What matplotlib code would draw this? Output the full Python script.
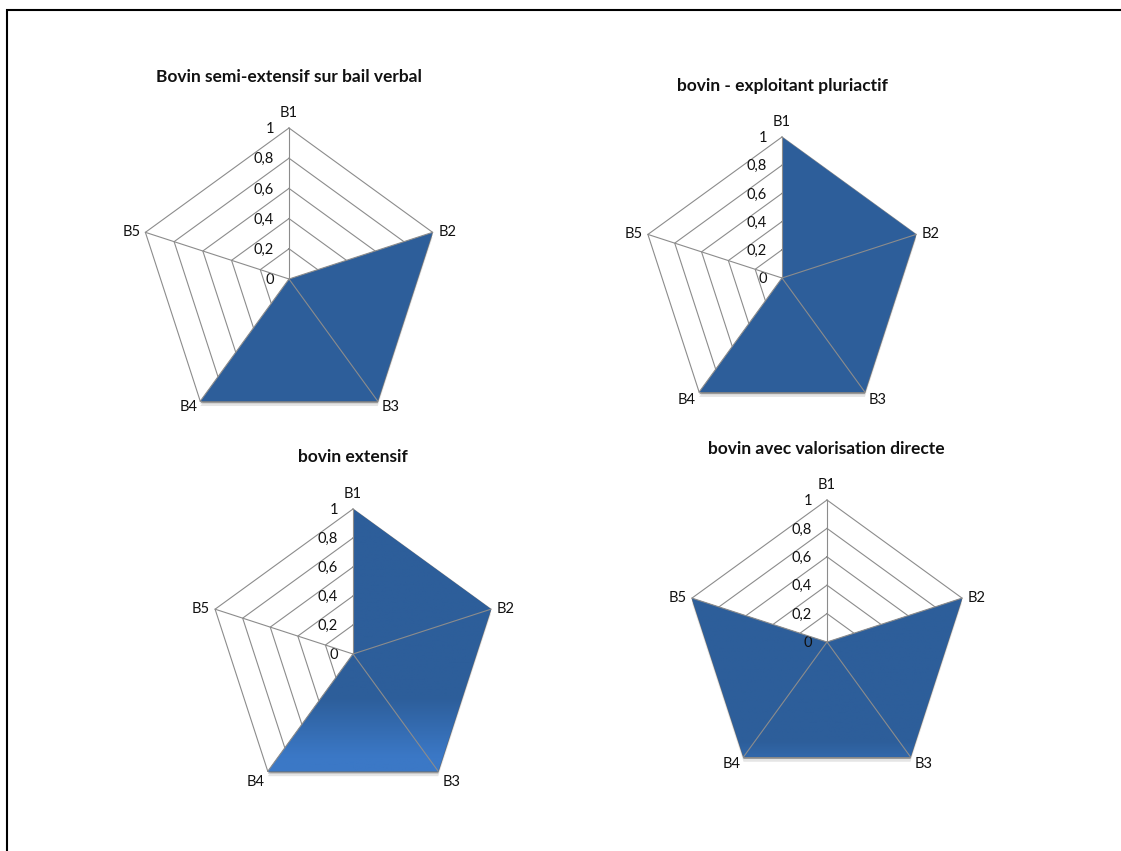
"""
Radar charts of the four bovine farm types
"""

import numpy as np
import matplotlib
matplotlib.use('Agg')
import matplotlib.pyplot as plt
import matplotlib.patheffects as pe
from matplotlib.colors import LinearSegmentedColormap
from matplotlib.image import BboxImage
from matplotlib.lines import Line2D

plt.rcParams['font.family'] = ['Lato', 'DejaVu Sans']

axis_labels = ['B1', 'B2', 'B3', 'B4', 'B5']
ring_levels = [0.2, 0.4, 0.6, 0.8, 1.0]
ring_labels = ['0', '0,2', '0,4', '0,6', '0,8', '1']

titles = [
    'Bovin semi-extensif sur bail verbal',
    'bovin - exploitant pluriactif',
    'bovin extensif',
    'bovin avec valorisation directe',
]
values_semi_extensif = [0, 1, 1, 1, 0]
values_pluriactif = [1, 1, 1, 1, 0]
values_extensif = [1, 1, 1, 1, 0]
values_valorisation = [0, 1, 1, 1, 1]

W, H = 1121, 851
GRID = '#8c8c8c'
DARK = '#2d5e9a'
LIGHT = '#3b78c6'
# Pixel offset of each axis name from its tip
NAME_OFFSETS = [(0, 15), (15, 0), (13, -4), (-12, -4), (-14, 0)]


def draw_radar(center, radius, title, title_xy, values, name_drop=0, light_end=None):
    """One radar chart, placed by its centre and radius in pixels"""
    cx, cy = center
    ax = fig.add_axes([(cx - radius) / W, 1 - (cy + radius) / H, 2 * radius / W, 2 * radius / H],
                      projection='polar')
    ax.set_theta_zero_location('N')
    ax.set_theta_direction(-1)
    ax.set_ylim(0, 1)
    ax.grid(False)
    ax.axis('off')

    angles = 2 * np.pi * np.arange(len(axis_labels)) / len(axis_labels)
    closed = np.append(angles, angles[0])

    # Rings go under the filled area, the spokes stay on top of it
    for level in ring_levels:
        ax.plot(closed, [level] * len(closed), color=GRID, lw=0.8, zorder=1, clip_on=False)

    poly = ax.fill(closed, values + values[:1], color=DARK, lw=0, zorder=2, clip_on=False)[0]
    poly.set_path_effects([pe.SimplePatchShadow(offset=(0, -3.5), shadow_rgbFace='#999999', alpha=0.25),
                           pe.SimplePatchShadow(offset=(0, -1.5), shadow_rgbFace='#666666', alpha=0.6),
                           pe.Normal()])

    if light_end is not None:
        cmap = LinearSegmentedColormap.from_list(
            'fade', [(0, DARK), (light_end[0], DARK), (light_end[1], LIGHT), (1, LIGHT)])
        img = BboxImage(ax.bbox, cmap=cmap, origin='upper', zorder=3)
        img.set_data(np.linspace(0, 1, 256).reshape(-1, 1))
        img.set_clip_path(poly)
        ax.add_artist(img)

    for a in angles:
        ax.plot([a, a], [0, 1], color=GRID, lw=0.8, zorder=4, clip_on=False)

    # Axis names just outside the tips, the two lower ones pushed down per chart
    for a, name, (dx, dy) in zip(angles, axis_labels, NAME_OFFSETS):
        if name in ('B3', 'B4'):
            dy -= name_drop
        ax.annotate(name, (a, 1), xytext=(dx, dy), textcoords='offset pixels',
                    ha='center', va='center', fontsize=10.5, color='#111111', annotation_clip=False)

    # Scale labels sit left of the B1 spoke
    for level, lab in zip([0] + ring_levels, ring_labels):
        ax.annotate(lab, (0, level), xytext=(-15, -1), textcoords='offset pixels',
                    ha='right', va='center', fontsize=10.5, color='#111111', annotation_clip=False)

    fig.text(title_xy[0] / W, 1 - title_xy[1] / H, title, ha='center', va='center',
             fontsize=12.5, fontweight='bold', color='#111111')
    return ax


fig = plt.figure(figsize=(W / 100, H / 100), dpi=100)

draw_radar((289, 279), 151, titles[0], (289, 77), values_semi_extensif, name_drop=2)
draw_radar((782, 278), 141, titles[1], (782, 86), values_pluriactif, name_drop=4)
draw_radar((353, 654), 145, titles[2], (353, 457), values_extensif, name_drop=7, light_end=(0.65, 0.855))
draw_radar((827, 642), 142, titles[3], (826, 449), values_valorisation, name_drop=3, light_end=(0.85, 1.0))

# Black frame on the top and left of the page only
fig.add_artist(Line2D([7 / W, 7 / W, 1], [0, 1 - 10 / H, 1 - 10 / H], color='black', lw=1.5,
                      solid_joinstyle='miter'))

fig.savefig('out.png', dpi=100)
plt.close(fig)
